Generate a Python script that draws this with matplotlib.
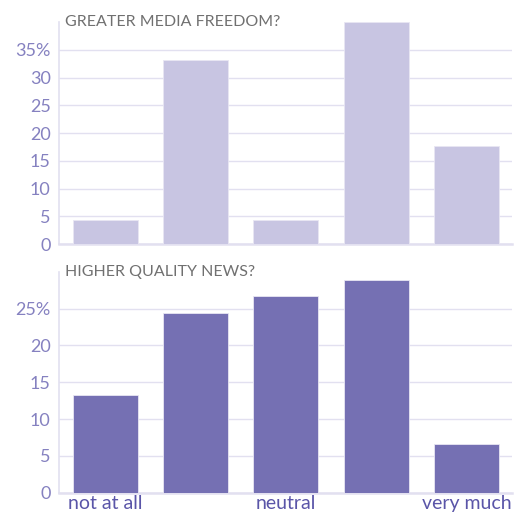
import matplotlib
matplotlib.use("Agg")
import matplotlib.pyplot as plt
import numpy as np

plt.rcParams['font.family'] = ['Lato', 'DejaVu Sans']

categories = ['not at all', '', 'neutral', '', 'very much']
freedom = [4.3, 33.2, 4.3, 40.0, 17.7]
quality = [13.2, 24.4, 26.7, 28.9, 6.6]

titles = ['GREATER MEDIA FREEDOM?', 'HIGHER QUALITY NEWS?']
ymax = [40, 30]
yticks = [[0, 5, 10, 15, 20, 25, 30, 35], [0, 5, 10, 15, 20, 25]]
colors = ['#c8c5e2', '#7570b3']

grid_c = '#e2e0f0'
tick_c = '#8581c0'
xlab_c = '#5a55a8'

fig = plt.figure(figsize=(5.25, 5.15), dpi=100)
ax1 = fig.add_axes([0.1124, 0.526, 0.8626, 0.431])
ax2 = fig.add_axes([0.1124, 0.0433, 0.8626, 0.4291])

x = np.arange(len(categories))
for ax, vals, t, ym, yt, c in zip([ax1, ax2], [freedom, quality], titles, ymax, yticks, colors):
    ax.bar(x, vals, width=0.72, color=c, edgecolor='#e8e6f3', linewidth=0.6, zorder=3)
    ax.set_xlim(-0.51, 4.5)
    ax.set_ylim(0, ym)
    ax.set_yticks(yt)
    labels = [str(v) for v in yt]
    labels[-1] = labels[-1] + '%'
    ax.set_yticklabels(labels)
    ax.grid(axis='y', color=grid_c, linewidth=1, zorder=0)
    for s in ['top', 'right']:
        ax.spines[s].set_visible(False)
    ax.spines['left'].set_color(grid_c)
    ax.spines['left'].set_linewidth(1.2)
    ax.spines['bottom'].set_color(grid_c)
    ax.spines['bottom'].set_linewidth(1.8)
    ax.tick_params(axis='y', length=0, pad=6, labelsize=13, labelcolor=tick_c)
    ax.tick_params(axis='x', length=0, pad=2, labelsize=14, labelcolor=xlab_c)
    ax.text(0.014, 1.0, t, transform=ax.transAxes, fontsize=11.5, color='#707070',
            fontweight='normal', va='center', ha='left')

ax1.set_xticks(x)
ax1.set_xticklabels([])
ax2.set_xticks(x)
ax2.set_xticklabels(categories)

fig.savefig('out.png', dpi=100)
